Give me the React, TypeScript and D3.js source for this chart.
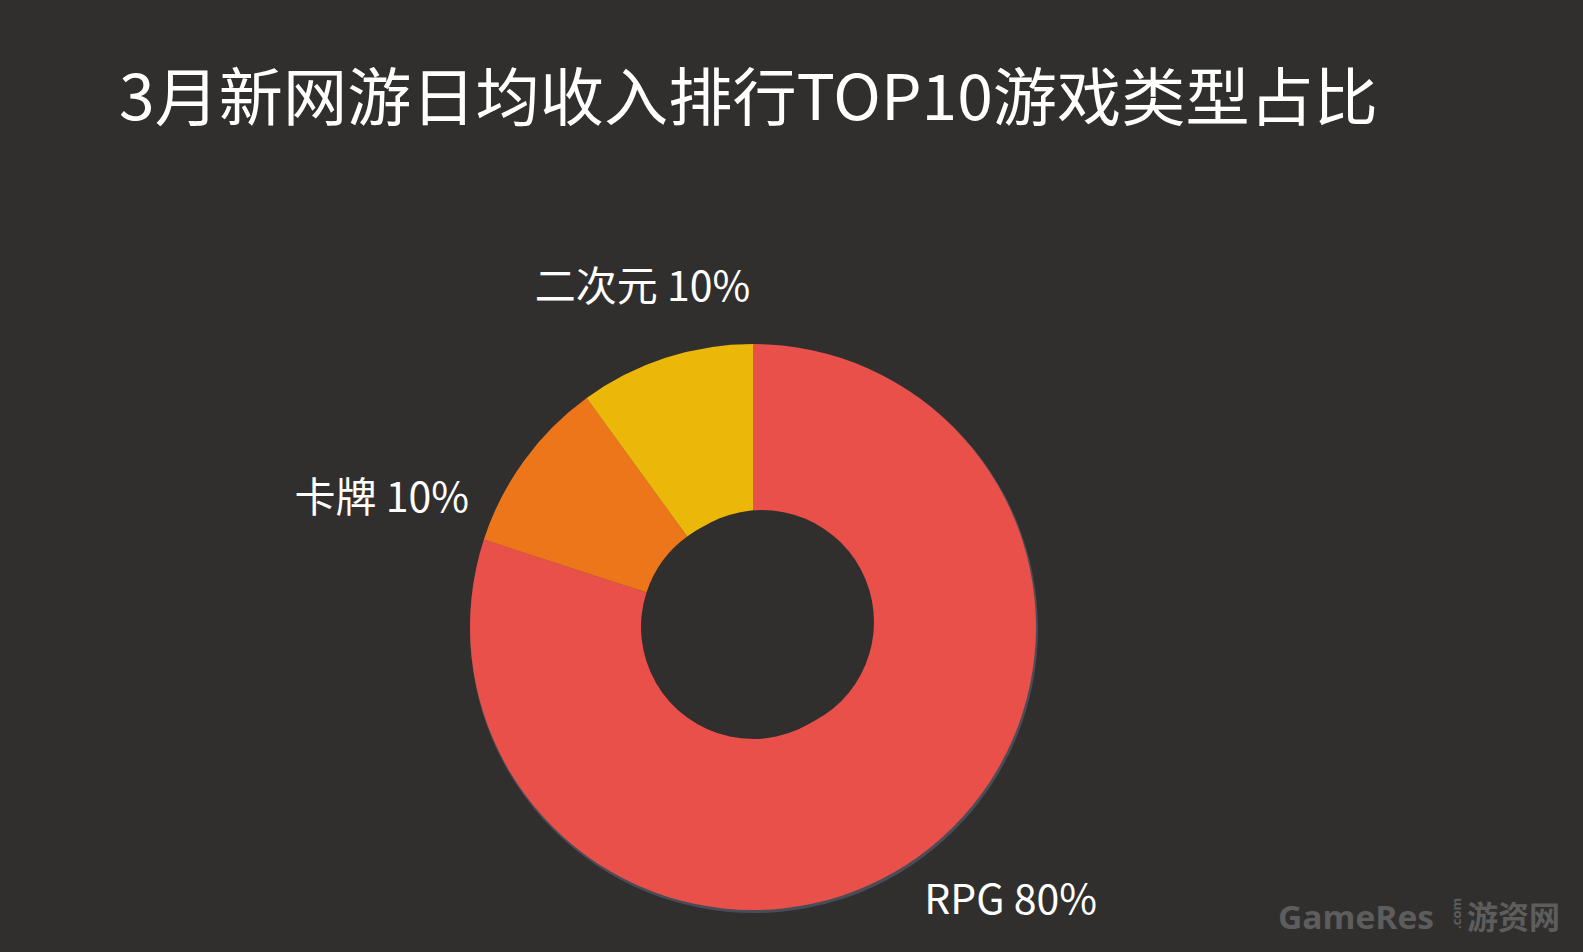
import { useEffect, useRef } from 'react';
import * as d3 from 'd3';

const categories = ['RPG', '卡牌', '二次元'];
const shares = [80, 10, 10];
const sliceColors = ['#e9504a', '#ee761a', '#ebb80a'];
const title = '3月新网游日均收入排行TOP10游戏类型占比';

// label nudges from the outer edge of each slice (best-fit style placement)
const labelNudge = [
  { dx: 5, dy: 58, anchor: 'start' },
  { dx: -55, dy: 51, anchor: 'end' },
  { dx: -23, dy: -57, anchor: 'middle' },
];

export default function App() {
  const svgRef = useRef<SVGSVGElement>(null);

  useEffect(() => {
    if (!svgRef.current) return;
    const width = 1583;
    const height = 952;
    const cx = 753;
    const cy = 627;
    const outerR = 283;
    const innerR = 112;
    const bg = '#312f2e';

    d3.select(svgRef.current).selectAll('*').remove();
    const svg = d3.select(svgRef.current)
      .attr('width', width)
      .attr('height', height);

    svg.append('rect')
      .attr('width', width)
      .attr('height', height)
      .attr('fill', bg);

    // title
    svg.append('text')
      .attr('x', 119)
      .attr('y', 120)
      .attr('fill', '#ffffff')
      .attr('font-family', '"Noto Sans CJK SC", "Noto Sans", sans-serif')
      .attr('font-size', 63)
      .attr('textLength', 1259)
      .attr('lengthAdjust', 'spacingAndGlyphs')
      .text(title);

    const pie = d3.pie<number>().sort(null).value(d => d);
    const arcs = pie(shares);
    const arc = d3.arc<d3.PieArcDatum<number>>()
      .innerRadius(innerR)
      .outerRadius(outerR);

    const g = svg.append('g').attr('transform', `translate(${cx},${cy})`);

    // faint shadow rim at the bottom edge
    g.append('circle')
      .attr('cx', 1)
      .attr('cy', 2)
      .attr('r', outerR + 1)
      .attr('fill', '#4a4c58');
    g.append('circle')
      .attr('r', innerR + 12)
      .attr('fill', bg);

    g.selectAll('path.slice')
      .data(arcs)
      .enter()
      .append('path')
      .attr('class', 'slice')
      .attr('d', arc)
      .attr('fill', (d, i) => sliceColors[i]);

    g.append('circle')
      .attr('cx', 9)
      .attr('cy', -5)
      .attr('r', innerR)
      .attr('fill', bg);

    // labels
    g.selectAll('text.lbl')
      .data(arcs)
      .enter()
      .append('text')
      .attr('class', 'lbl')
      .attr('x', (d, i) => {
        const a = (d.startAngle + d.endAngle) / 2;
        return Math.sin(a) * outerR + labelNudge[i].dx;
      })
      .attr('y', (d, i) => {
        const a = (d.startAngle + d.endAngle) / 2;
        return -Math.cos(a) * outerR + labelNudge[i].dy;
      })
      .attr('text-anchor', (d, i) => labelNudge[i].anchor)
      .attr('fill', '#ffffff')
      .attr('font-family', '"Noto Sans CJK SC", "Noto Sans", sans-serif')
      .attr('font-size', 41)
      .text((d, i) => `${categories[i]} ${shares[i]}%`);

    // watermark
    const wm = svg.append('g').attr('fill', '#5d5d5d');
    wm.append('text')
      .attr('x', 1278)
      .attr('y', 929)
      .attr('font-family', '"Open Sans", "Noto Sans", sans-serif')
      .attr('font-weight', 700)
      .attr('font-size', 33)
      .attr('textLength', 156)
      .attr('lengthAdjust', 'spacingAndGlyphs')
      .text('GameRes');
    wm.append('text')
      .attr('transform', 'translate(1461,929) rotate(-90)')
      .attr('font-family', '"Open Sans", sans-serif')
      .attr('font-weight', 700)
      .attr('font-size', 13)
      .text('.com');
    wm.append('text')
      .attr('x', 1467)
      .attr('y', 929)
      .attr('font-family', '"Noto Sans CJK SC", sans-serif')
      .attr('font-weight', 700)
      .attr('font-size', 32)
      .attr('textLength', 93)
      .attr('lengthAdjust', 'spacingAndGlyphs')
      .text('游资网');
  }, []);

  return (
    <div style={{ position: 'absolute', left: 0, top: 0 }}>
      <svg ref={svgRef} style={{ display: 'block' }}></svg>
    </div>
  );
}
